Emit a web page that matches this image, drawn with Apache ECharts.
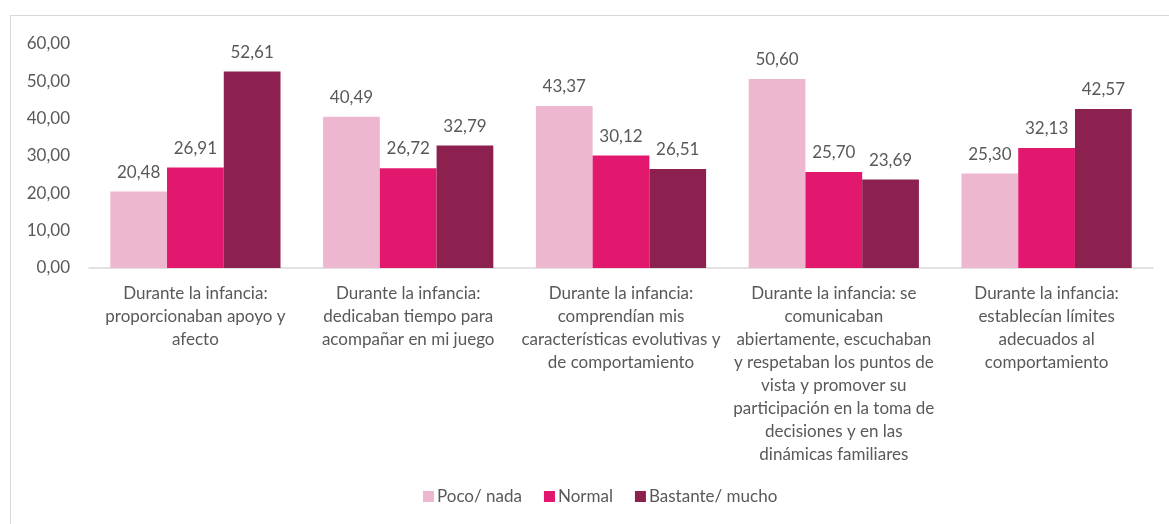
<!DOCTYPE html>
<html>
<head>
<meta charset="utf-8">
<script src="https://cdn.jsdelivr.net/npm/echarts@6/dist/echarts.min.js"></script>
<style>
  html, body { margin: 0; padding: 0; background: #fff; }
  #frame { position: absolute; left: 10px; top: 15px; width: 1200px; height: 560px; border: 1px solid #d9d9d9; }
  #chart { position: absolute; left: 0; top: 0; width: 1169px; height: 524px; }
</style>
</head>
<body>
<div id="frame"></div>
<div id="chart"></div>
<script>
const categories = [
  'Durante la infancia:\nproporcionaban apoyo y\nafecto',
  'Durante la infancia:\ndedicaban tiempo para\nacompañar en mi juego',
  'Durante la infancia:\ncomprendían mis\ncaracterísticas evolutivas y\nde comportamiento',
  'Durante la infancia: se\ncomunicaban\nabiertamente, escuchaban\ny respetaban los puntos de\nvista y promover su\nparticipación en la toma de\ndecisiones y en las\ndinámicas familiares',
  'Durante la infancia:\nestablecían límites\nadecuados al\ncomportamiento'
]
const pocoNada = [20.48, 40.49, 43.37, 50.60, 25.30]
const normal = [26.91, 26.72, 30.12, 25.70, 32.13]
const bastanteMucho = [52.61, 32.79, 26.51, 23.69, 42.57]
const seriesNames = ['Poco/ nada', 'Normal', 'Bastante/ mucho']
const colors = ['#EDB8CF', '#E2176E', '#8C2150']

const font = 'Lato, "Open Sans", sans-serif'
const fmt = v => v.toFixed(2).replace('.', ',')

const chart = echarts.init(document.getElementById('chart'))

function bar(name, data, color) {
  return {
    name: name,
    type: 'bar',
    data: data,
    barGap: '0%',
    barCategoryGap: '20%',
    itemStyle: { color: color },
    label: {
      show: true,
      position: 'top',
      distance: 11,
      color: '#595959',
      fontSize: 17,
      fontFamily: font,
      formatter: p => fmt(p.value)
    }
  }
}

chart.setOption({
  animation: false,
  grid: { left: 89, right: 16, top: 44, bottom: 256 },
  legend: {
    bottom: 14,
    left: 418,
    itemWidth: 11,
    itemHeight: 11,
    itemGap: 22,
    icon: 'rect',
    textStyle: { color: '#595959', fontSize: 17, fontFamily: font, padding: [0, 0, 0, -2] },
    data: seriesNames
  },
  xAxis: {
    type: 'category',
    data: categories,
    axisLine: { lineStyle: { color: '#D9D9D9', width: 1.5 } },
    axisTick: { show: false },
    axisLabel: {
      interval: 0,
      color: '#595959',
      fontSize: 17,
      fontFamily: font,
      lineHeight: 23,
      margin: 14,
      align: 'center'
    }
  },
  yAxis: {
    type: 'value',
    min: 0,
    max: 60,
    interval: 10,
    splitLine: { show: false },
    axisLine: { show: false },
    axisTick: { show: false },
    axisLabel: {
      color: '#595959',
      fontSize: 17,
      fontFamily: font,
      margin: 19,
      formatter: v => fmt(v)
    }
  },
  series: [
    bar(seriesNames[0], pocoNada, colors[0]),
    bar(seriesNames[1], normal, colors[1]),
    bar(seriesNames[2], bastanteMucho, colors[2])
  ]
})
</script>
</body>
</html>
